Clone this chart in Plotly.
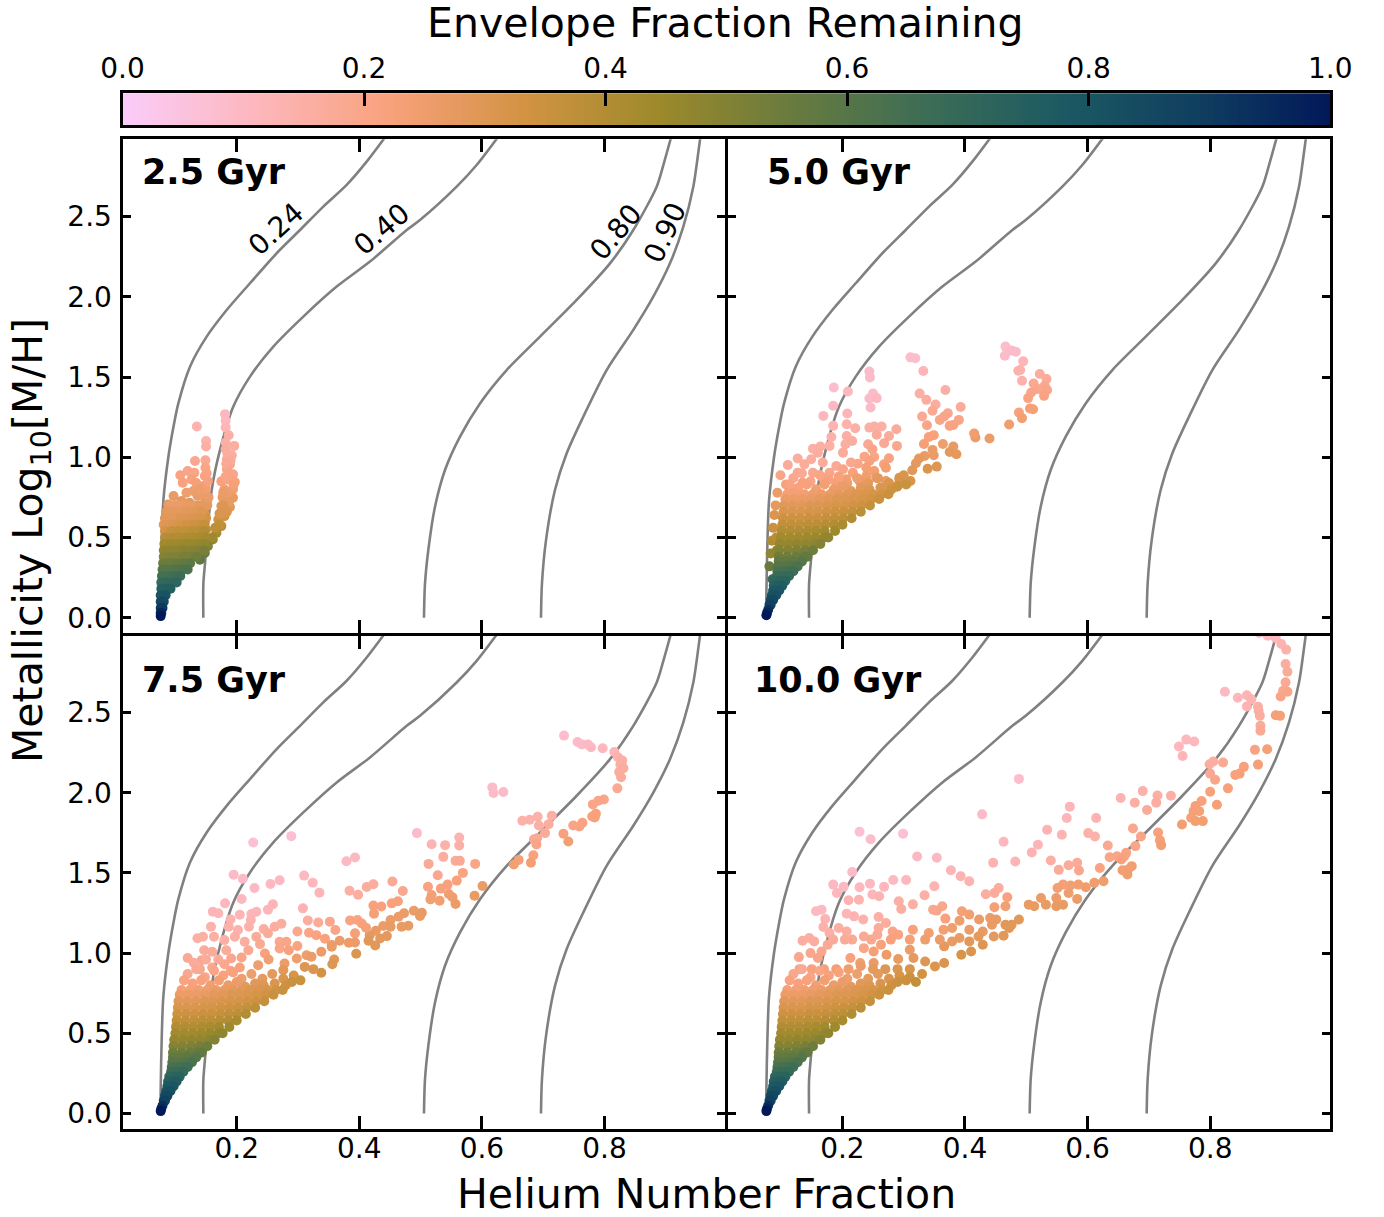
import numpy as np
import plotly.graph_objects as go

FONT = "DejaVu Sans"

# Reversed batlow colour ramp
cmap_colors = ["#FACCFA", "#FDB7BC", "#F8A17B", "#D29343", "#9D892B",
               "#687B3E", "#3C6D56", "#1C5A62", "#103F60", "#011959"]

# Grey iso-lines
c24_x = [.076, .076, .0776, .0803, .0884, .0966, .1048, .1238, .151, .1836, .2217, .2652, .3033, .3413, .3794, .412, .443]
c24_y = [0.0, .146, .458, .728, .999, 1.185, 1.336, 1.565, 1.752, 1.918, 2.085, 2.272, 2.417, 2.563, 2.698, 2.843, 3.0]
c40_x = [.1456, .1456, .1483, .1592, .1728, .1945, .2217, .2598, .3087, .3631, .4174, .4773, .499, .5588, .5914, .627]
c40_y = [0.0, .209, .339, .796, 1.046, 1.316, 1.503, 1.69, 1.877, 2.064, 2.22, 2.417, 2.479, 2.687, 2.822, 3.0]
c80_x = [.5055, .5072, .5126, .5235, .5398, .5643, .5969, .6404, .6948, .7546, .809, .847, .8851, .896, .909]
c80_y = [0.0, .214, .422, .692, .921, 1.129, 1.336, 1.544, 1.752, 1.981, 2.209, 2.417, 2.687, 2.822, 3.0]
c90_x = [.6964, .698, .7046, .7192, .7383, .7654, .8035, .847, .8796, .9068, .9286, .9449, .9514, .9565]
c90_y = [0.0, .214, .484, .796, 1.025, 1.253, 1.544, 1.794, 2.001, 2.209, 2.438, 2.687, 2.853, 3.0]

# Ragged upper edge of the fan in the three older panels: (x, y, envelope fraction)
fan_top = [
    (.120, .87, .19), (.134, .90, .18), (.148, .85, .20), (.163, .89, .20), (.178, .86, .22), (.194, .88, .22),
    (.208, .84, .25), (.224, .87, .25), (.242, .84, .28), (.258, .87, .28), (.276, .84, .31), (.293, .86, .32),
    (.304, .83, .35), (.114, .83, .21), (.128, .81, .22), (.142, .83, .22), (.157, .80, .24), (.171, .83, .24),
    (.186, .80, .26), (.200, .82, .26), (.214, .79, .28), (.230, .81, .29), (.244, .80, .30), (.262, .81, .31),
    (.280, .80, .34), (.290, .82, .35),
]

# Dense base of the fan in the three older panels: (y, x values, envelope fractions)
fan_rows = [
    (.77, [.110, .124, .138, .152, .166, .180, .194, .208, .222, .236, .250, .264, .275],
     [.23, .23, .24, .25, .26, .27, .28, .29, .30, .31, .32, .33, .35]),
    (.74, [.107, .121, .135, .149, .163, .177, .191, .205, .219, .233, .247, .260],
     [.26, .26, .26, .27, .28, .29, .30, .30, .31, .32, .33, .35]),
    (.70, [.105, .119, .133, .147, .161, .175, .189, .203, .217, .231, .245],
     [.29, .29, .29, .30, .30, .31, .32, .32, .33, .34, .36]),
    (.66, [.104, .118, .132, .146, .160, .174, .188, .202, .216, .230],
     [.31, .31, .31, .32, .32, .33, .34, .35, .36, .38]),
    (.62, [.103, .117, .131, .145, .159, .173, .187, .201, .215],
     [.34, .34, .34, .35, .35, .36, .37, .38, .40]),
    (.58, [.102, .116, .130, .144, .158, .172, .186, .200],
     [.37, .37, .37, .38, .38, .39, .40, .42]),
    (.54, [.101, .115, .129, .143, .157, .171, .188], [.40, .40, .40, .41, .42, .43, .44]),
    (.50, [.100, .114, .128, .142, .156, .170, .177], [.43, .43, .43, .44, .45, .46, .47]),
    (.46, [.098, .112, .126, .140, .154, .164], [.46, .46, .47, .47, .48, .50]),
    (.42, [.097, .111, .125, .139, .152], [.50, .50, .51, .52, .54]),
    (.38, [.096, .110, .124, .136, .143], [.54, .54, .55, .56, .57]),
    (.35, [.096, .108, .120, .134], [.57, .57, .58, .60]),
    (.32, [.095, .107, .118, .127], [.60, .60, .61, .63]),
    (.29, [.094, .104, .113, .120], [.63, .64, .65, .66]),
    (.26, [.093, .103, .113], [.67, .68, .69]),
    (.23, [.090, .099, .107], [.71, .72, .73]),
    (.20, [.088, .095, .102], [.74, .75, .76]),
    (.17, [.087, .092, .097], [.78, .78, .79]),
    (.14, [.085, .092], [.81, .82]),
    (.11, [.083, .087], [.84, .85]),
    (.08, [.081, .083], [.88, .88]),
    (.05, [.079], [.93]),
    (.03, [.077], [.96]),
    (.015, [.076], [1.0]),
]

# Dense base of the 2.5 Gyr panel
fan_rows_25 = [
    (.70, [.090, .100, .110, .120, .130, .140], [.26, .26, .26, .27, .27, .28]),
    (.66, [.088, .099, .110, .121, .132, .143], [.28, .28, .28, .29, .29, .30]),
    (.62, [.086, .097, .108, .119, .130, .141], [.29, .29, .30, .30, .31, .32]),
    (.58, [.085, .096, .107, .118, .129, .140, .147], [.30, .31, .32, .33, .34, .35, .36]),
    (.54, [.083, .094, .105, .116, .127, .138, .147], [.33, .36, .37, .37, .38, .38, .40]),
    (.50, [.083, .094, .105, .116, .127, .138, .149], [.39, .40, .40, .41, .41, .42, .43]),
    (.46, [.082, .093, .104, .115, .126, .137, .148], [.43, .44, .44, .45, .45, .46, .47]),
    (.42, [.081, .092, .103, .114, .125, .136, .147], [.47, .48, .48, .49, .49, .50, .52]),
    (.38, [.081, .092, .103, .114, .125, .135], [.50, .51, .51, .52, .52, .54]),
    (.34, [.080, .091, .102, .113, .124], [.55, .55, .56, .57, .58]),
    (.30, [.079, .090, .101, .112, .120], [.60, .60, .61, .62, .63]),
    (.26, [.078, .089, .100, .108], [.65, .65, .66, .67]),
    (.22, [.077, .086, .095, .102], [.69, .70, .70, .71]),
    (.18, [.077, .084, .092], [.74, .75, .75]),
    (.14, [.076, .084], [.80, .81]),
    (.10, [.076, .081], [.85, .85]),
    (.06, [.076, .079], [.90, .91]),
    (.03, [.076, .077], [.96, .96]),
    (.01, [.076], [1.0]),
]

# 2.5 Gyr panel: (x, y, envelope fraction)
pts_25 = [
    (.135, 1.192, .13), (.150, 1.102, .13), (.150, 1.067, .15), (.181, 1.269, .11), (.182, 1.227, .11),
    (.182, 1.186, .12), (.187, 1.137, .15), (.182, 1.092, .15), (.196, 1.071, .16), (.182, 1.05, .16),
    (.192, 1.012, .16), (.184, .987, .18), (.189, .956, .19), (.184, .925, .2), (.194, .894, .2),
    (.197, .846, .22), (.186, .862, .21), (.194, .80, .24), (.180, .80, .24), (.194, .748, .27),
    (.183, .738, .27), (.189, .69, .29), (.175, .696, .3), (.180, .633, .33), (.170, .612, .34),
    (.175, .571, .38), (.167, .529, .42), (.161, .487, .46), (.153, .446, .5), (.148, .404, .55),
    (.140, .362, .58), (.172, .65, .32), (.184, .66, .31),
    (.177, .75, .27), (.187, .72, .27), (.175, .85, .22), (.19, .86, .21), (.188, .9, .2), (.178, .70, .3),
    (.172, .58, .37), (.165, .56, .38), (.16, .5, .44), (.185, .78, .25), (.195, .83, .23), (.185, 1.02, .16),
    (.19, .98, .17), (.182, .88, .2), (.183, .96, .18), (.178, .78, .26), (.176, .65, .31),
    (.149, .981, .18), (.149, .935, .2), (.148, .883, .21), (.146, .821, .24), (.145, .758, .26),
    (.144, .696, .3), (.142, .633, .33), (.142, .571, .37), (.140, .508, .42), (.145, .467, .46),
    (.150, .80, .24), (.150, .72, .28), (.148, .65, .32), (.147, .60, .36),
    (.152, .7, .28), (.154, .75, .26), (.153, .85, .22), (.151, .9, .21), (.15, .62, .33), (.15, .55, .38),
    (.132, .977, .19), (.120, .915, .2), (.131, .904, .2), (.108, .888, .21), (.126, .862, .22),
    (.112, .842, .22), (.129, .79, .25), (.118, .779, .25), (.097, .758, .27), (.110, .727, .28),
    (.123, .717, .29), (.088, .706, .3), (.099, .675, .31), (.112, .675, .31), (.126, .654, .33),
    (.136, .76, .26), (.136, .70, .3), (.134, .84, .23), (.14, .80, .25), (.085, .66, .3), (.083, .62, .3),
    (.081, .58, .29),
]

# 5.0 Gyr panel
pts_50 = [
    (.466, 1.69, .08), (.476, 1.665, .09), (.483, 1.658, .09), (.465, 1.633, .09), (.495, 1.598, .12),
    (.490, 1.544, .14), (.487, 1.54, .14), (.493, 1.477, .14), (.522, 1.519, .16), (.533, 1.488, .17),
    (.512, 1.46, .18), (.530, 1.446, .19), (.534, 1.419, .2), (.519, 1.425, .19), (.508, 1.404, .2),
    (.503, 1.369, .21), (.529, 1.383, .21), (.511, 1.30, .23), (.506, 1.304, .23), (.488, 1.279, .22),
    (.493, 1.244, .24), (.472, 1.204, .25), (.440, 1.117, .26), (.417, 1.123, .26), (.415, 1.148, .25),
    (.386, 1.019, .28), (.381, 1.067, .27), (.375, 1.033, .28), (.354, .942, .3), (.339, .929, .31),
    (.368, 1.419, .15), (.326, 1.398, .15), (.337, 1.358, .16), (.352, 1.329, .16), (.347, 1.29, .18),
    (.372, 1.275, .19), (.366, 1.254, .2), (.359, 1.233, .2), (.330, 1.254, .18), (.393, 1.313, .17),
    (.390, 1.233, .2), (.381, 1.202, .21), (.375, 1.196, .21), (.338, 1.2, .2), (.349, 1.138, .22),
    (.341, 1.127, .22), (.333, 1.083, .23), (.364, 1.083, .25), (.347, 1.046, .26), (.349, 1.013, .26),
    (.334, 1.008, .27), (.325, .992, .28), (.32, .963, .28), (.314, .919, .29), (.300, .888, .31),
    (.293, .873, .31), (.311, .852, .32), (.289, .817, .33), (.311, 1.623, .08), (.319, 1.617, .08),
    (.332, 1.538, .12), (.244, 1.535, .09), (.245, 1.498, .09), (.186, 1.435, .08), (.209, 1.41, .11),
    (.25, 1.398, .09), (.244, 1.367, .09), (.256, 1.369, .1), (.246, 1.31, .09), (.185, 1.321, .1),
    (.169, 1.258, .11), (.208, 1.273, .12), (.185, 1.196, .13), (.207, 1.206, .14), (.221, 1.181, .15),
    (.244, 1.185, .15), (.252, 1.192, .15), (.264, 1.192, .15), (.288, 1.175, .17), (.256, 1.14, .17),
    (.276, 1.133, .17), (.182, 1.127, .14), (.207, 1.133, .15), (.216, 1.102, .16), (.268, 1.088, .18),
    (.289, 1.071, .19), (.242, 1.081, .18), (.249, 1.05, .2), (.205, 1.081, .16), (.164, 1.067, .15),
    (.152, 1.054, .15), (.179, 1.071, .15), (.201, 1.029, .17), (.236, 1.004, .2), (.252, 1.002, .2),
    (.276, .994, .21), (.244, .977, .22), (.268, .956, .22), (.225, .96, .2), (.214, .967, .19),
    (.239, .935, .23), (.252, .915, .24), (.271, .935, .24), (.127, .992, .16), (.111, .952, .17),
    (.138, .956, .17), (.149, .988, .16), (.16, 1.029, .16), (.168, .967, .17), (.190, .946, .18),
    (.127, .904, .19), (.099, .888, .2), (.152, .904, .19), (.179, .904, .2), (.201, .925, .2),
    (.217, .904, .22), (.239, .883, .25), (.255, .873, .26), (.271, .852, .27), (.228, .852, .26),
    (.206, .863, .24), (.190, .842, .23), (.168, .873, .21), (.108, .831, .22), (.135, .842, .22),
    (.094, .779, .26), (.114, .80, .24), (.282, .81, .29), (.269, .79, .3),
    (.091, .70, .28), (.089, .64, .31), (.087, .56, .35), (.085, .48, .41), (.083, .40, .47), (.081, .32, .56),
    (.092, .50, .39), (.093, .42, .47), (.086, .24, .68),
]

# 7.5 Gyr panel
pts_75 = [
    (.734, 2.356, .08), (.756, 2.316, .09), (.763, 2.30, .09), (.773, 2.30, .1), (.778, 2.283, .1),
    (.797, 2.277, .11), (.816, 2.254, .12), (.822, 2.221, .14), (.829, 2.20, .15), (.826, 2.175, .15),
    (.831, 2.152, .16), (.824, 2.129, .16), (.827, 2.096, .17), (.821, 2.027, .18), (.799, 1.958, .2),
    (.790, 1.95, .2), (.781, 1.927, .2), (.786, 1.868, .22), (.780, 1.852, .22), (.784, 1.846, .22),
    (.764, 1.812, .21), (.759, 1.789, .21), (.749, 1.796, .2), (.733, 1.744, .22), (.741, 1.696, .24),
    (.714, 1.856, .15), (.691, 1.85, .14), (.678, 1.831, .14), (.666, 1.825, .14), (.693, 1.796, .15),
    (.709, 1.804, .16), (.703, 1.748, .17), (.690, 1.716, .18), (.685, 1.71, .18), (.689, 1.677, .2),
    (.684, 1.61, .22), (.680, 1.564, .24), (.660, 1.581, .23), (.652, 1.552, .24), (.617, 2.033, .09),
    (.619, 1.998, .09), (.635, 2.004, .09),
    (.494, 1.748, .09), (.518, 1.679, .13), (.540, 1.673, .14), (.563, 1.721, .13), (.563, 1.671, .15),
    (.537, 1.600, .16), (.557, 1.575, .17), (.564, 1.575, .18), (.589, 1.556, .2), (.513, 1.556, .18),
    (.528, 1.485, .19), (.569, 1.50, .21), (.559, 1.452, .22), (.544, 1.427, .22), (.533, 1.402, .22),
    (.512, 1.414, .21), (.518, 1.362, .23), (.516, 1.335, .24), (.531, 1.327, .24), (.546, 1.368, .24),
    (.552, 1.348, .25), (.557, 1.306, .26), (.588, 1.358, .27), (.601, 1.418, .26),
    (.454, 1.446, .18), (.471, 1.387, .19), (.423, 1.429, .16), (.412, 1.412, .16), (.384, 1.389, .15),
    (.398, 1.364, .16), (.463, 1.323, .22), (.453, 1.310, .22), (.436, 1.291, .22), (.423, 1.296, .22),
    (.424, 1.246, .23), (.489, 1.264, .26), (.502, 1.252, .27), (.499, 1.231, .27), (.473, 1.248, .26),
    (.464, 1.227, .26), (.451, 1.206, .26), (.480, 1.171, .27), (.469, 1.164, .27), (.439, 1.169, .26),
    (.451, 1.164, .27), (.445, 1.106, .28), (.427, 1.139, .27), (.417, 1.112, .28), (.434, 1.091, .28),
    (.415, 1.077, .29), (.426, 1.048, .29), (.385, 1.204, .21), (.397, 1.206, .21), (.404, 1.185, .22),
    (.411, 1.158, .23), (.393, 1.123, .23), (.393, 1.066, .26), (.383, 1.064, .26), (.368, 1.077, .26),
    (.395, .996, .31), (.352, 1.196, .19), (.361, 1.144, .2), (.333, 1.191, .17), (.316, 1.204, .16),
    (.308, 1.279, .13), (.299, 1.135, .19), (.318, 1.127, .2), (.330, 1.112, .21), (.344, 1.089, .22),
    (.355, 1.050, .25),
    (.227, 1.689, .07), (.289, 1.729, .07), (.379, 1.573, .1), (.393, 1.596, .1), (.195, 1.489, .09),
    (.210, 1.464, .09), (.229, 1.406, .1), (.255, 1.431, .1), (.270, 1.454, .1), (.310, 1.483, .1),
    (.324, 1.439, .11), (.335, 1.377, .12), (.181, 1.310, .11), (.208, 1.337, .11), (.259, 1.304, .12),
    (.251, 1.271, .12), (.232, 1.258, .12), (.224, 1.243, .12), (.205, 1.239, .12), (.161, 1.258, .12),
    (.170, 1.248, .12), (.190, 1.210, .13), (.223, 1.206, .13), (.220, 1.164, .14), (.187, 1.164, .14),
    (.158, 1.164, .14), (.273, 1.183, .16), (.262, 1.164, .16), (.244, 1.150, .16), (.251, 1.123, .17),
    (.202, 1.144, .14), (.145, 1.102, .15), (.136, 1.093, .15), (.163, 1.102, .15), (.180, 1.081, .15),
    (.197, 1.102, .15), (.232, 1.102, .17), (.213, 1.071, .16), (.238, 1.056, .18), (.270, 1.071, .19),
    (.281, 1.071, .2), (.299, 1.044, .21), (.270, 1.029, .2), (.285, 1.018, .22), (.219, 1.018, .18),
    (.147, 1.018, .17), (.160, 1.008, .17), (.183, 1.018, .17), (.246, .998, .22), (.252, .960, .24),
    (.208, .973, .2), (.191, .966, .19), (.120, .969, .18), (.143, .956, .19), (.314, .987, .25),
    (.298, .966, .25), (.278, .935, .26), (.338, 1.008, .26), (.355, 1.04, .26), (.359, .960, .29),
    (.322, .977, .26), (.356, .931, .3), (.311, .914, .3), (.338, .877, .33),
    (.276, .894, .29), (.235, .925, .25), (.13, .94, .17), (.15, .96, .17), (.17, .96, .17), (.19, .89, .2),
    (.14, .90, .19), (.16, .91, .19), (.18, .93, .19), (.205, .91, .22), (.325, .90, .31),
]

# 10.0 Gyr panel
pts_100 = [
    (.880, 2.996, .09), (.894, 2.979, .1), (.907, 2.965, .11), (.916, 2.927, .13), (.924, 2.892, .14),
    (.923, 2.802, .16), (.926, 2.754, .17), (.923, 2.688, .18), (.919, 2.635, .19), (.926, 2.629, .2),
    (.915, 2.6, .2), (.907, 2.483, .23), (.914, 2.479, .23), (.878, 2.536, .15), (.879, 2.511, .15),
    (.881, 2.479, .16), (.882, 2.417, .17), (.882, 2.386, .18), (.824, 2.629, .1), (.845, 2.592, .11),
    (.860, 2.608, .12), (.867, 2.583, .13), (.860, 2.538, .13), (.749, 2.288, .11), (.761, 2.331, .11),
    (.774, 2.319, .11), (.755, 2.229, .12), (.873, 2.267, .21), (.893, 2.271, .23), (.821, 2.188, .18),
    (.805, 2.194, .16), (.799, 2.177, .16), (.800, 2.119, .18), (.808, 2.081, .2), (.855, 2.161, .22),
    (.848, 2.119, .23), (.841, 2.111, .22), (.878, 2.175, .23), (.829, 2.027, .22), (.800, 2.006, .22),
    (.786, 1.948, .22), (.776, 1.917, .23), (.811, 1.925, .23), (.773, 1.885, .23), (.782, 1.885, .23),
    (.769, 1.844, .23), (.754, 1.802, .24), (.776, 1.823, .24), (.788, 1.823, .24), (.690, 2.01, .14),
    (.654, 1.967, .13), (.677, 1.938, .15), (.714, 1.983, .15), (.712, 1.938, .16), (.736, 1.981, .15),
    (.697, 1.892, .17), (.571, 1.913, .12), (.566, 1.842, .12), (.614, 1.842, .13), (.488, 2.086, .08),
    (.428, 1.865, .09), (.534, 1.769, .13), (.558, 1.738, .13), (.601, 1.748, .14), (.612, 1.727, .14),
    (.674, 1.777, .19), (.687, 1.727, .2), (.715, 1.752, .22), (.718, 1.704, .23), (.720, 1.673, .24),
    (.678, 1.667, .2), (.633, 1.671, .18), (.663, 1.625, .21), (.660, 1.604, .21), (.648, 1.604, .2),
    (.636, 1.598, .2), (.655, 1.583, .22), (.672, 1.542, .24), (.666, 1.521, .24), (.657, 1.517, .24),
    (.665, 1.49, .25), (.463, 1.694, .11), (.519, 1.675, .12), (.509, 1.627, .13), (.540, 1.577, .15),
    (.482, 1.571, .12), (.446, 1.563, .13), (.553, 1.519, .17), (.569, 1.548, .17), (.583, 1.563, .17),
    (.586, 1.515, .19), (.620, 1.531, .21), (.626, 1.448, .25), (.611, 1.438, .25), (.597, 1.411, .25),
    (.585, 1.427, .24), (.572, 1.421, .24), (.560, 1.427, .23), (.551, 1.406, .24), (.569, 1.375, .25),
    (.583, 1.338, .26), (.549, 1.344, .26), (.549, 1.292, .27), (.560, 1.302, .27), (.532, 1.302, .27),
    (.524, 1.344, .26), (.513, 1.292, .27), (.504, 1.302, .27), (.469, 1.348, .22), (.455, 1.406, .16),
    (.448, 1.375, .17), (.434, 1.367, .16), (.466, 1.292, .24), (.448, 1.286, .23), (.407, 1.448, .13),
    (.393, 1.479, .13), (.377, 1.517, .12), (.354, 1.594, .1), (.322, 1.602, .1), (.350, 1.417, .13),
    (.334, 1.361, .15), (.304, 1.456, .11), (.283, 1.456, .1), (.268, 1.413, .11), (.245, 1.433, .1),
    (.260, 1.354, .13), (.249, 1.365, .12), (.228, 1.411, .11), (.202, 1.413, .1), (.185, 1.427, .1),
    (.191, 1.375, .11), (.228, 1.756, .07), (.246, 1.71, .08), (.299, 1.744, .07), (.216, 1.506, .09),
    (.210, 1.329, .13), (.227, 1.333, .13), (.292, 1.323, .15), (.315, 1.304, .15), (.296, 1.275, .16),
    (.363, 1.292, .19), (.354, 1.265, .2), (.348, 1.271, .19), (.395, 1.261, .23), (.407, 1.24, .24),
    (.423, 1.209, .26), (.441, 1.219, .26), (.451, 1.209, .27), (.368, 1.215, .22), (.391, 1.202, .25),
    (.444, 1.177, .27), (.488, 1.209, .29), (.476, 1.177, .29), (.466, 1.177, .29), (.472, 1.156, .29),
    (.463, 1.108, .29), (.447, 1.104, .28), (.429, 1.135, .27), (.422, 1.104, .28), (.410, 1.01, .31),
    (.429, 1.052, .3), (.394, .99, .32), (.407, 1.073, .29), (.391, 1.094, .27), (.379, 1.073, .27),
    (.366, 1.042, .28), (.359, 1.084, .26), (.341, 1.125, .24), (.335, 1.084, .25), (.379, 1.156, .25),
    (.365, 1.146, .24), (.407, 1.146, .26), (.315, 1.146, .22), (.282, 1.135, .2), (.291, 1.115, .21),
    (.310, 1.084, .23), (.279, 1.084, .22), (.263, 1.052, .22), (.272, .99, .26), (.251, 1.01, .23),
    (.235, 1.104, .18), (.247, 1.084, .19), (.235, 1.031, .2), (.257, 1.115, .18), (.259, 1.225, .15),
    (.271, 1.188, .16), (.259, 1.156, .17), (.234, 1.209, .14), (.219, 1.229, .13), (.207, 1.246, .12),
    (.172, 1.213, .13), (.169, 1.163, .14), (.157, 1.261, .1), (.166, 1.271, .1), (.179, 1.125, .15),
    (.194, 1.156, .15), (.207, 1.135, .16), (.216, 1.084, .18), (.204, 1.084, .17), (.185, 1.084, .17),
    (.135, 1.077, .16), (.146, 1.094, .15), (.154, 1.073, .16), (.176, 1.052, .18), (.166, 1.01, .19),
    (.129, .975, .19), (.148, 1.0, .19), (.160, .969, .2), (.213, .969, .22), (.229, .938, .24),
    (.251, .938, .26), (.291, .963, .27), (.310, 1.021, .26), (.316, .969, .28), (.335, .948, .3),
    (.351, .917, .31), (.366, .938, .31), (.13, .9, .21), (.15, .9, .22), (.17, .9, .23), (.19, .9, .24),
    (.21, .9, .25), (.23, .92, .26), (.25, .90, .28), (.27, .90, .3), (.29, .90, .31), (.31, .90, .32),
    (.33, .87, .33), (.31, .85, .35), (.32, .82, .37),
]

panel_names = ["2.5 Gyr", "5.0 Gyr", "7.5 Gyr", "10.0 Gyr"]
panel_label_x = [.0426, .073, .0426, .052]
panel_label_y = [2.78, 2.78, 2.70, 2.70]
xticks = [.2, .4, .6, .8]
yticks = [0, .5, 1.0, 1.5, 2.0, 2.5]
cbar_ticks = [0, .2, .4, .6, .8, 1.0]
line_labels = ["0.24", "0.40", "0.80", "0.90"]
line_label_x = [.2636, .4365, .818, .899]
line_label_y = [2.42, 2.417, 2.40, 2.40]
line_label_angle = [-42, -40, -50, -65]

W, H = 1384, 1217
fig = go.Figure()


def rows_to_pts(rows):
    out = []
    for y, xs, fs in rows:
        out += [(x, y, f) for x, f in zip(xs, fs)]
    return out


panels = [pts_25, pts_50, pts_75, pts_100]
for i, pts in enumerate(panels):
    ax = "" if i == 0 else str(i + 1)
    for cx, cy in [(c24_x, c24_y), (c40_x, c40_y), (c80_x, c80_y), (c90_x, c90_y)]:
        fig.add_trace(go.Scatter(x=cx, y=cy, mode="lines", xaxis="x" + ax, yaxis="y" + ax,
                                 line=dict(color="#808080", width=2.6, shape="spline", smoothing=0.8),
                                 showlegend=False, hoverinfo="skip"))
    if i == 0:
        all_pts = list(pts) + rows_to_pts(fan_rows_25)
    else:
        all_pts = list(pts) + list(fan_top) + rows_to_pts(fan_rows)
    xs = [p[0] for p in all_pts]
    ys = [p[1] for p in all_pts]
    fs = [p[2] for p in all_pts]
    fig.add_trace(go.Scatter(x=xs, y=ys, mode="markers", xaxis="x" + ax, yaxis="y" + ax,
                             marker=dict(size=10, color=fs, coloraxis="coloraxis", line=dict(width=0)),
                             showlegend=False))

# Colour bar drawn as its own axis so that ticks and labels sit as in the reference
ramp = np.linspace(0, 1, 256)
fig.add_trace(go.Heatmap(x=ramp, y=[0, 1], z=[ramp, ramp], coloraxis="coloraxis", xaxis="x5", yaxis="y5",
                         hoverinfo="skip"))

x_dom = [[122.5 / W, 725.2 / W], [728.2 / W, 1330.2 / W]]
y_dom = [[1 - 632.5 / H, 1 - 139.2 / H], [1 - 1128.5 / H, 1 - 635.5 / H]]
x_rng = [[.0137, .9969], [.0137, .9958]]
y_rng = [[-.0923, 2.983], [-.0935, 2.98]]
for i in range(4):
    col, row = i % 2, i // 2
    key = "" if i == 0 else str(i + 1)
    common = dict(showline=True, linewidth=3, linecolor="black", mirror="allticks", ticks="inside",
                  tickwidth=2.5, tickcolor="black", showgrid=False, zeroline=False,
                  tickfont=dict(family=FONT, size=28, color="black"))
    fig.update_layout(**{
        "xaxis" + key: dict(domain=x_dom[col], range=x_rng[col], anchor="y" + key, tickvals=xticks, ticklen=13,
                            ticktext=[f"{v:.1f}" for v in xticks], showticklabels=row == 1,
                            ticklabelstandoff=-7, **common),
        "yaxis" + key: dict(domain=y_dom[row], range=y_rng[row], anchor="x" + key, tickvals=yticks, ticklen=8,
                            ticktext=[f"{v:.1f}" for v in yticks], showticklabels=col == 0,
                            ticklabelstandoff=2, **common),
    })

fig.update_layout(
    xaxis5=dict(domain=[122.5 / W, 1330.2 / W], range=[0, 1], anchor="y5", side="top", tickvals=cbar_ticks,
                ticktext=[f"{v:.1f}" for v in cbar_ticks], ticks="inside", ticklen=13, tickwidth=2.5,
                tickcolor="black", showline=True, linewidth=3, linecolor="black", mirror=True,
                showgrid=False, zeroline=False, ticklabelstandoff=1,
                tickfont=dict(family=FONT, size=28, color="black")),
    yaxis5=dict(domain=[1 - 125.2 / H, 1 - 93.2 / H], range=[0, 1], anchor="x5", showticklabels=False,
                ticks="", showline=True, linewidth=3, linecolor="black", mirror=True,
                showgrid=False, zeroline=False),
)

ann = []
for i, name in enumerate(panel_names):
    key = "" if i == 0 else str(i + 1)
    ann.append(dict(text=f"<b>{name}</b>", x=panel_label_x[i], y=panel_label_y[i], xref="x" + key, yref="y" + key,
                    xanchor="left", yanchor="middle", showarrow=False,
                    font=dict(family=FONT, size=35, color="black")))
for t, x, y, a in zip(line_labels, line_label_x, line_label_y, line_label_angle):
    ann.append(dict(text=t, x=x, y=y, xref="x", yref="y", textangle=a, showarrow=False,
                    font=dict(family=FONT, size=28, color="black")))
ann.append(dict(text="Helium Number Fraction", x=706.5 / W, y=1 - 1194 / H, xref="paper", yref="paper",
                xanchor="center", yanchor="middle", showarrow=False, font=dict(family=FONT, size=41, color="black")))
ann.append(dict(text="Metallicity Log<sub>10</sub>[M/H]", x=31 / W, y=1 - 541 / H, xref="paper", yref="paper",
                xanchor="center", yanchor="middle", textangle=-90, showarrow=False,
                font=dict(family=FONT, size=41, color="black")))
ann.append(dict(text="Envelope Fraction Remaining", x=726 / W, y=1 - 23.5 / H, xref="paper", yref="paper",
                xanchor="center", yanchor="middle", showarrow=False, font=dict(family=FONT, size=41, color="black")))

stops = [[i / (len(cmap_colors) - 1), c] for i, c in enumerate(cmap_colors)]
fig.update_layout(
    width=W, height=H, autosize=False, margin=dict(l=0, r=0, t=0, b=0, autoexpand=False),
    paper_bgcolor="white", plot_bgcolor="white", showlegend=False, annotations=ann,
    font=dict(family=FONT, color="black"),
    coloraxis=dict(cmin=0, cmax=1, colorscale=stops, showscale=False),
)

fig.write_html("out.html", config=dict(displayModeBar=False), post_script="document.body.style.margin='0';")
